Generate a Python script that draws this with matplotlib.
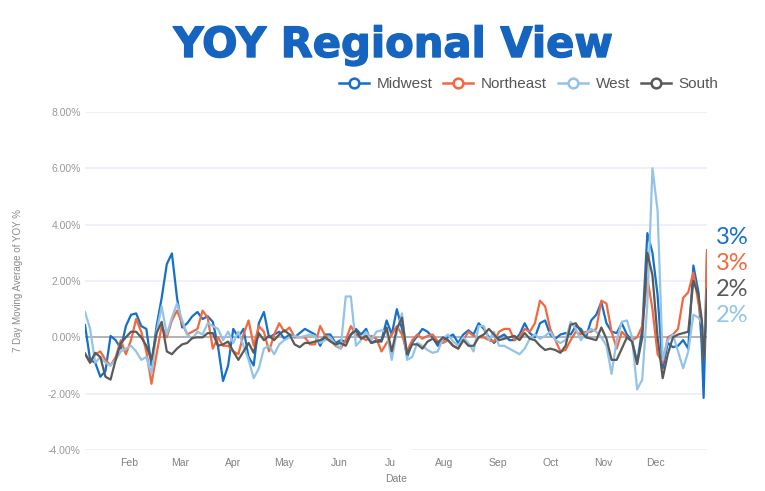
import matplotlib
matplotlib.use('Agg')
import matplotlib.pyplot as plt
import matplotlib.patheffects as pe
from matplotlib.lines import Line2D
from matplotlib.patches import Rectangle

## day of the year for each reading
days = list(range(0, 361, 3)) + [362, 363, 364, 365]

midwest = [.44,-.8,-.9,-1.4,-1.2,.05,-.1,-.4,.4,.8,
           .85,.4,.3,-1.0,.4,1.4,2.6,2.98,1.4,.35,
           .5,.75,.9,.65,.75,.55,-.3,-1.55,-1.0,.3,
           0,.3,-.7,-1.0,.5,.9,0,.1,.2,-.05,
           .1,0,.15,.3,.2,.1,-.3,.1,.1,-.2,
           -.1,-.15,.1,.3,.1,.3,-.2,-.1,-.1,.6,
           .1,1.0,.3,-.7,-.2,.05,.3,.2,0,-.3,
           -.1,0,.1,-.2,.1,.25,.1,.5,.3,0,
           -.2,0,.1,-.1,-.1,.1,.5,.15,0,.5,
           .6,.1,-.05,.1,.15,.1,.4,.3,0,.6,
           .8,1.25,.5,.2,.15,.5,.1,-.1,-.9,.3,
           3.7,3.0,1.5,-1.1,-.2,-.35,-.3,-.1,-.4,2.55,1.6,
           -.4,-2.15,0,3.0]
northeast = [-.6,-.9,-.6,-.5,-.8,-1.0,-.7,-.1,-.6,-.1,
             .65,.2,-.5,-1.65,-.6,.4,0,.6,.95,.5,
             .1,.2,.3,.95,.7,-.4,0,-.3,-.3,-.5,
             -.6,.1,.6,-.3,.4,.2,-.5,.1,.5,.2,
             .35,0,0,0,-.25,-.25,.4,.05,-.1,-.3,
             -.4,-.1,.4,.1,0,-.1,.05,-.05,-.5,-.2,
             .1,.4,.1,-.5,-.1,.1,-.05,.05,.1,-.15,
             -.2,-.1,-.3,-.4,-.1,.2,.05,0,0,-.1,
             -.15,.2,.3,.3,-.1,0,.3,.2,.5,1.3,
             1.1,.3,-.1,-.5,-.45,-.1,.2,.1,.2,.2,
             .3,1.3,1.2,.2,-.4,.2,0,-.1,0,.4,
             2.1,1.0,-.6,-.9,0,.1,.3,1.4,1.6,2.3,1.2,
             .5,-.8,.5,3.1]
west = [.9,.3,-.9,-.7,-.9,-1.0,-.8,-.5,-.4,-.3,
        -.5,-.8,-.7,-1.3,.2,1.1,.1,.7,1.2,.6,
        .1,-.05,.2,.1,.5,.4,.3,-.1,.2,-.2,
        .2,-.3,-.8,-1.45,-1.1,-.4,-.3,-.6,-.25,-.1,
        0,.05,0,.05,.1,.05,-.2,-.1,0,-.25,
        -.4,1.45,1.45,-.3,-.1,.2,-.1,.2,.25,.2,
        -.8,.2,.85,-.8,-.7,-.2,-.3,-.45,-.55,-.5,
        -.05,.1,-.15,-.3,0,-.2,-.5,.4,.4,-.1,
        .2,-.3,-.3,-.4,-.5,-.6,-.4,-.05,.1,-.05,
        .05,.2,-.1,-.2,-.1,.55,.3,-.1,.15,.3,
        .2,0,-.3,-1.3,-.1,.55,.6,0,-1.85,-1.5,
        1.2,6.0,4.5,-.8,-.1,.1,-.5,-1.1,-.5,.8,.7,
        .5,0,.5,1.7]
south = [-.57,-.9,-.55,-.7,-1.4,-1.5,-.8,-.2,0,.2,
         .2,0,-.3,-.8,.15,.55,-.5,-.6,-.4,-.25,
         -.2,-.02,0,0,.15,.15,-.3,-.25,-.15,-.5,
         -.8,-.5,-.2,-.55,.15,-.1,.05,-.1,.1,.25,
         .1,-.25,-.35,-.2,-.2,-.15,-.1,0,-.15,-.25,
         -.2,-.3,.1,.25,-.05,.05,-.2,-.15,-.15,.35,
         -.5,.3,.7,-.6,-.25,-.25,-.4,-.15,-.05,-.2,
         0,-.1,-.3,-.4,-.1,-.3,-.3,0,.1,.3,
         .1,-.1,-.05,0,.05,-.1,.15,-.05,-.1,-.3,
         -.45,-.4,-.45,-.55,-.3,.45,.5,.2,0,-.05,
         -.1,.35,-.05,-.8,-.8,-.4,0,-.15,-.95,0,
         3.0,2.2,0,-1.45,-.6,0,.1,.15,.2,2.0,1.5,
         .6,-.8,.3,1.7]

regions = ['Midwest', 'Northeast', 'West', 'South']
series = [midwest, northeast, west, south]
colors = ['#1470c8', '#f2693f', '#93c4e8', '#5a5a5a']

months = ['Feb', 'Mar', 'Apr', 'May', 'Jun', 'Ju', 'Aug', 'Sep', 'Oct', 'Nov', 'Dec']
month_days = [26, 56, 87, 117, 149, 179, 211, 242, 273, 304, 335]
yticks = [-4, -2, 0, 2, 4, 6, 8]

end_labels = ['3%', '3%', '2%', '2%']
end_colors = ['#1470c8', '#f2693f', '#5a5a5a', '#93c4e8']

W, H = 765, 491
fig = plt.figure(figsize=(W/100, H/100), dpi=100)
ax = fig.add_axes([85/W, 1-450/H, 622/W, 338/H])

for vals, col, name in zip(series, colors, regions):
    ax.plot(days, vals, color=col, lw=1.6, label=name, solid_joinstyle='round')
ax.axhline(0, color='#a8a8a8', lw=1.2, zorder=1.5)

ax.set_xlim(0, 365)
ax.set_ylim(-4, 8)
ax.set_yticks(yticks)
ax.set_yticklabels(['%.2f%%' % v for v in yticks], color='#999999', fontsize=7.5,
                   family='Liberation Sans')
ax.set_xticks(month_days)
ax.set_xticklabels(months, color='#808080', fontsize=7.5, family='Liberation Sans')
ax.tick_params(length=0, axis='y', pad=3)
ax.tick_params(length=0, axis='x', pad=6)
ax.grid(axis='y', color='#edf0f9', lw=1.3)
ax.set_axisbelow(True)
for s in ax.spines.values():
    s.set_visible(False)

## the white smudge over the Jul label in the original
fig.add_artist(Rectangle((392/W, 1-452/H), 19/W, 5/H, transform=fig.transFigure,
                         facecolor='white', edgecolor='none'))

title = fig.text(393/W, 1-45/H, 'YOY Regional View', color='#1565c0', fontsize=30, fontweight='bold',
                 ha='center', va='center', family='DejaVu Sans')
title.set_path_effects([pe.withStroke(linewidth=1, foreground='#1565c0')])
fig.text(18/W, 1-281/H, '7 Day Moving Average of YOY %', color='#8a8a8a', fontsize=7,
         rotation=90, ha='center', va='center', family='Liberation Sans')
fig.text(396/W, 1-479/H, 'Date', color='#808080', fontsize=7.5, ha='center', va='center',
         family='Liberation Sans')

handles = [Line2D([], [], color=c, lw=1.8, marker='o', ms=7, mfc='white', mew=1.8) for c in colors]
leg = fig.legend(handles, regions, ncol=4, loc='center right', bbox_to_anchor=(726/W, 1-84/H),
                 frameon=False, handlelength=1.96, columnspacing=0.72, handletextpad=0.5,
                 borderpad=0, prop={'family': 'Liberation Sans', 'size': 11})
for t in leg.get_texts():
    t.set_color('#555555')

for lab, col, ypx in zip(end_labels, end_colors, [237, 263, 290, 315]):
    fig.text(732/W, 1-ypx/H, lab, color=col, fontsize=17, ha='center', va='center', family='Lato')

fig.savefig('out.png', dpi=100)
